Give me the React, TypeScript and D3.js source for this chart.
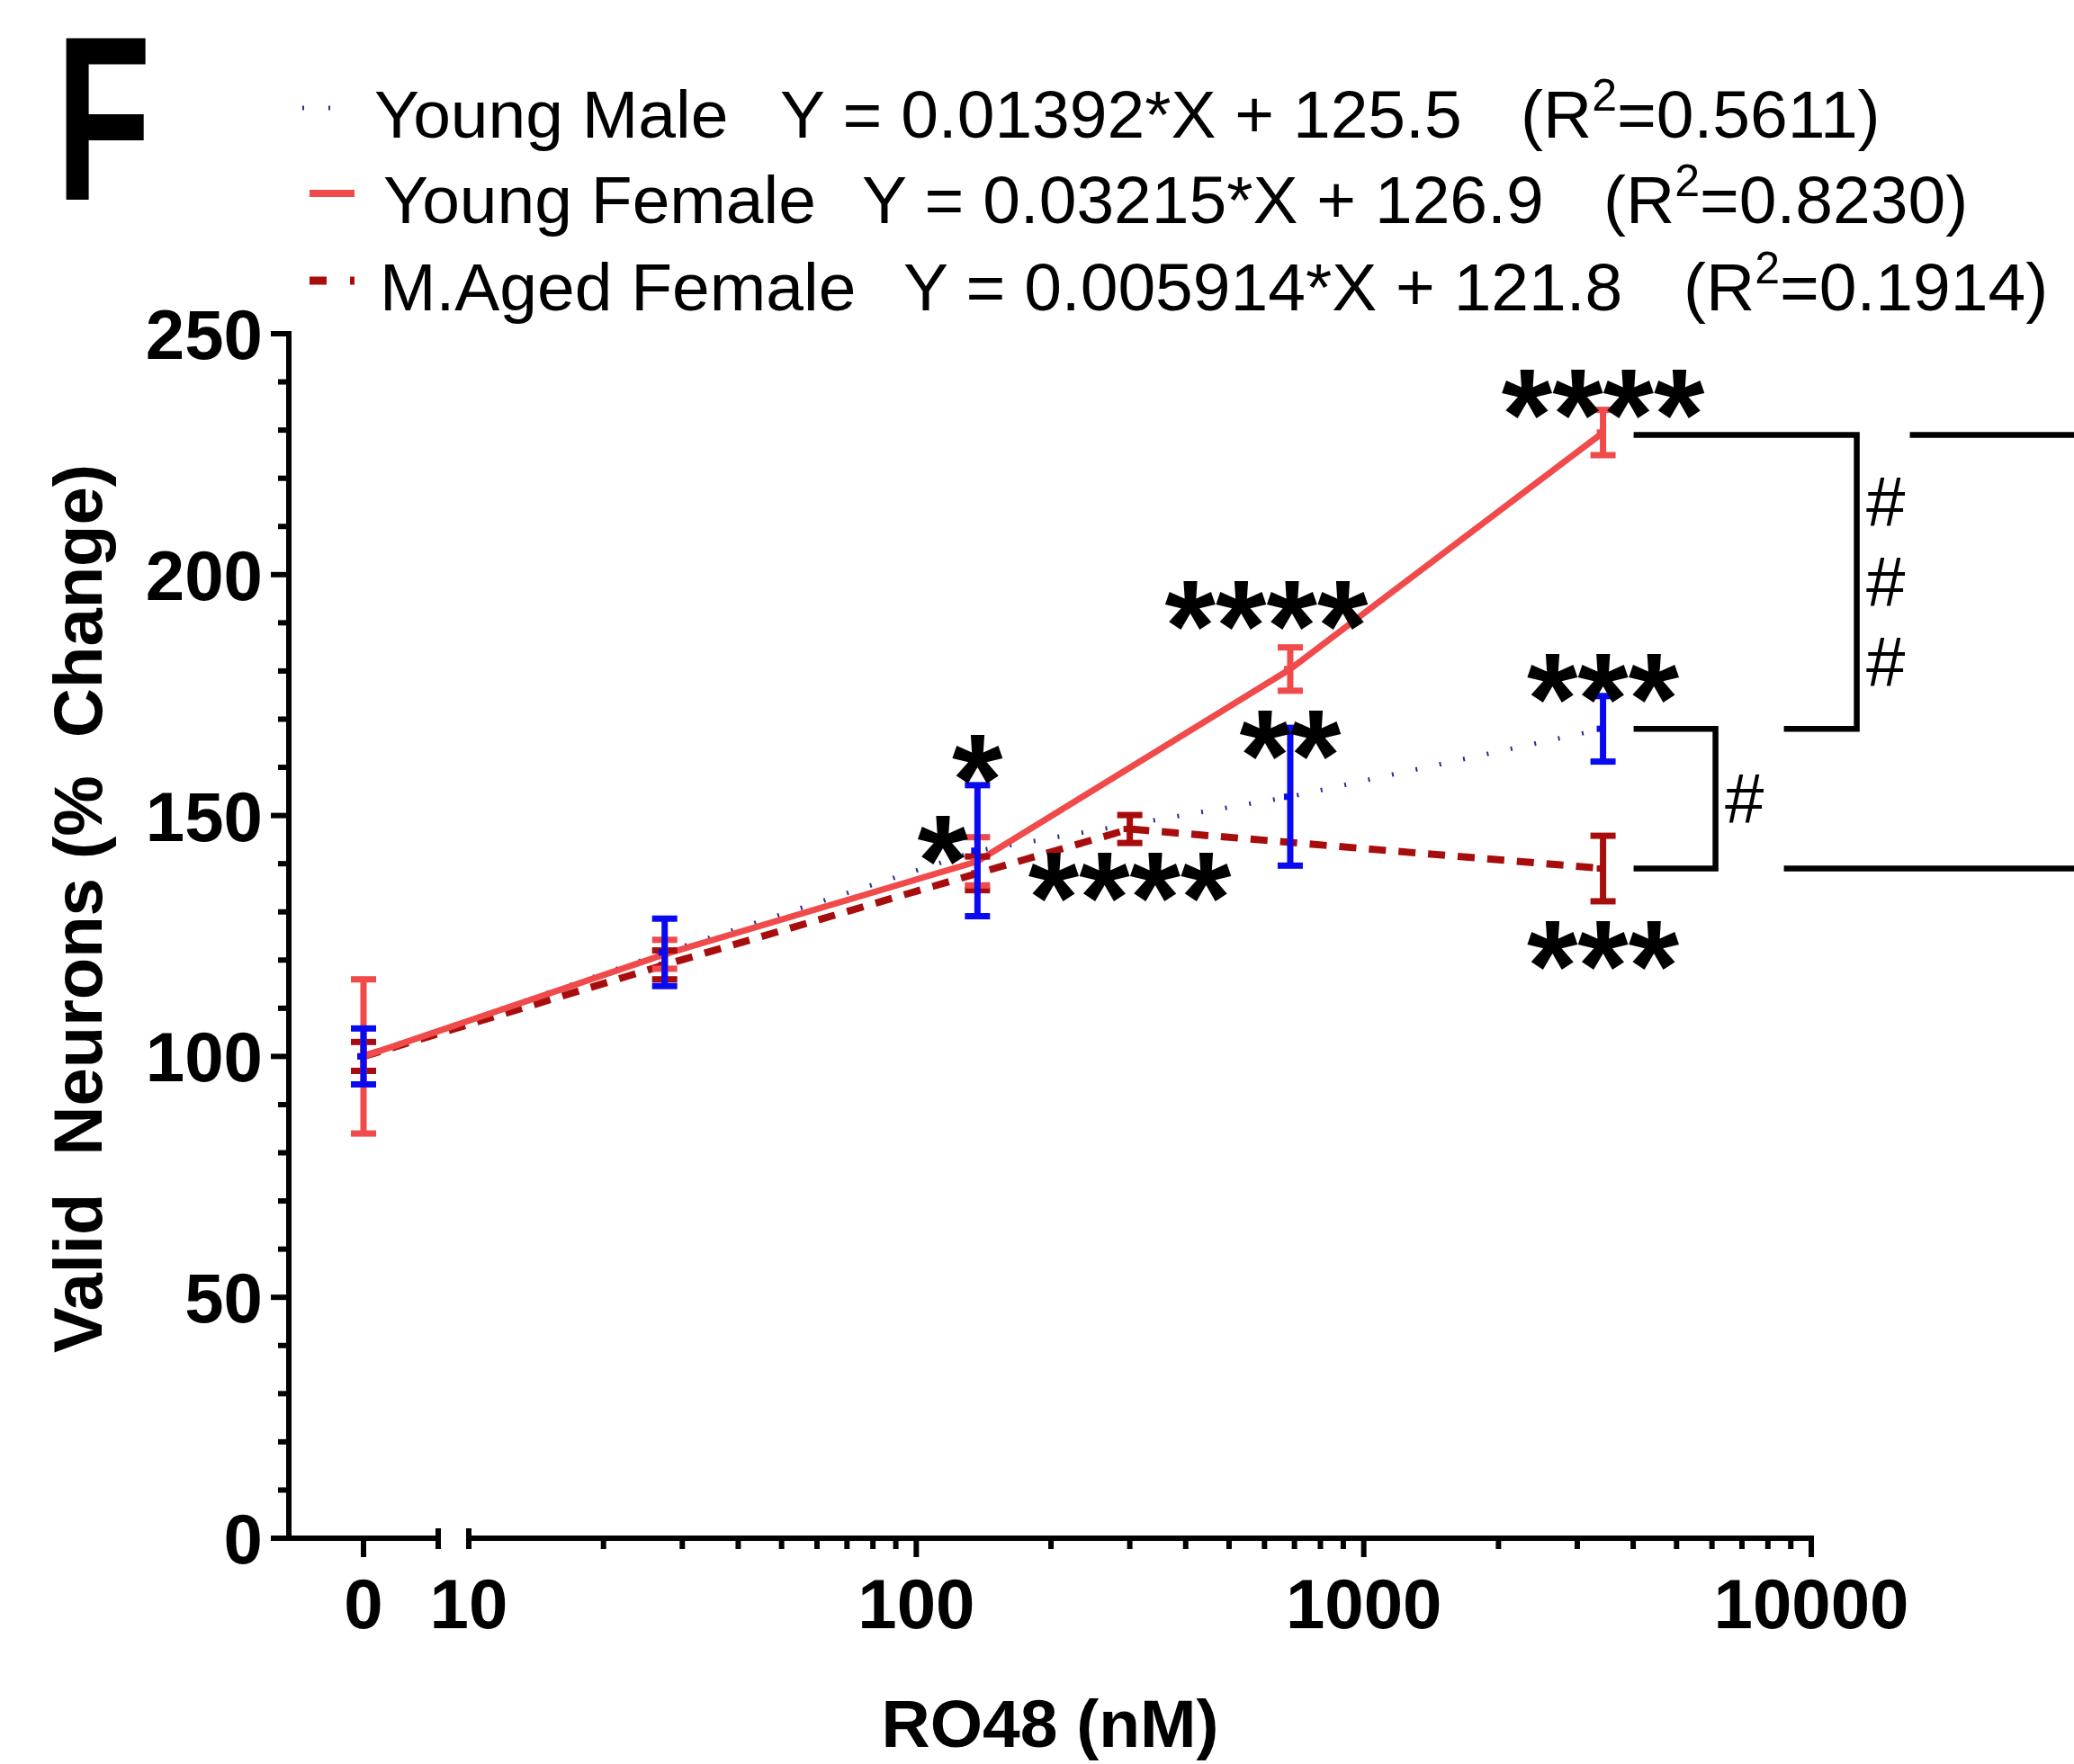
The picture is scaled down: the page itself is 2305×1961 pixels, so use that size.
import React from "react";
import * as d3 from "d3";

// ---------- data ----------
const doses = [0, 27.4, 137, 685, 3425];
const youngMaleMean = [100, 121.6, 142.7, 153.9, 168.0];
const youngMaleErr = [5.8, 7.0, 13.6, 14.3, 6.8];
const youngFemaleMean = [100, 121.2, 140.5, 180.4, 229.5];
const youngFemaleErr = [16.0, 3.0, 5.0, 4.5, 4.7];
const agedDoses = [0, 27.4, 137, 300, 3425];
const agedMean = [100, 119.0, 138.0, 147.2, 139.0];
const agedErr = [3.0, 3.0, 3.5, 2.9, 6.8];

const yTicks = [0, 50, 100, 150, 200, 250];
const yMinorTicks = d3.range(0, 251, 10);
const xLogTicks = [10, 100, 1000, 10000];
const xZeroTick = [0];

const legendRows = [
  { name: "Young Male", eq: "Y = 0.01392*X + 125.5", r2: "0.5611" },
  { name: "Young Female", eq: "Y = 0.03215*X + 126.9", r2: "0.8230" },
  { name: "M.Aged Female", eq: "Y = 0.005914*X + 121.8", r2: "0.1914" },
];

const annotations = [
  { text: "****", x: 3425, y: 238.2 },
  { text: "****", x: 606, y: 194.4 },
  { text: "***", x: 3425, y: 179.2 },
  { text: "**", x: 685, y: 167.5 },
  { text: "*", x: 137, y: 162.4 },
  { text: "*", x: 114.6, y: 145.6 },
  { text: "****", x: 300, y: 138.0 },
  { text: "***", x: 3425, y: 123.8 },
];

const bracketLevels = { female: 229, male: 168, aged: 139 };

// ---------- styles ----------
const RED = "#f04a4a";
const BLUE = "#0a0af0";
const NAVY = "#2a2a95";
const DARKRED = "#a80d0d";
const FONT = "'Liberation Sans', Arial, Helvetica, sans-serif";

export default function App() {
  const W = 2305;
  const H = 1961;

  const y = d3.scaleLinear().domain([0, 250]).range([1710, 371]);
  const xLog = d3.scaleLog().domain([10, 10000]).range([521, 2013]);
  const xZero = d3.scaleLinear().domain([-1, 1]).range([321, 487]);
  const xp = (d: number) => (d === 0 ? xZero(0) : xLog(d));

  const lineGen = d3
    .line<[number, number]>()
    .x((p) => xp(p[0]))
    .y((p) => y(p[1]));

  const malePts = doses.map((d, i) => [d, youngMaleMean[i]] as [number, number]);
  const femalePts = doses.map((d, i) => [d, youngFemaleMean[i]] as [number, number]);
  const agedPts = agedDoses.map((d, i) => [d, agedMean[i]] as [number, number]);

  const capW = 14;
  const errBars = (
    xs: number[],
    means: number[],
    errs: number[],
    color: string,
    key: string
  ) =>
    xs.map((d, i) => {
      const cx = xp(d);
      const yt = y(means[i] + errs[i]);
      const yb = y(means[i] - errs[i]);
      return (
        <g key={key + i} stroke={color} strokeWidth={7} fill="none">
          <line x1={cx} x2={cx} y1={yt} y2={yb} />
          <line x1={cx - capW} x2={cx + capW} y1={yt} y2={yt} />
          <line x1={cx - capW} x2={cx + capW} y1={yb} y2={yb} />
          <line x1={cx - capW / 2} x2={cx} y1={y(means[i])} y2={y(means[i])} />
        </g>
      );
    });

  // minor log ticks
  const logMinor: number[] = [];
  [10, 100, 1000].forEach((dec) => {
    for (let k = 2; k <= 9; k++) logMinor.push(dec * k);
  });

  const axisY = y(0);
  const base = xLog(3425);
  const yF = y(bracketLevels.female);
  const yM = y(bracketLevels.male);
  const yA = y(bracketLevels.aged);
  const innerV = base + 125;
  const outerV = base + 282;

  const astSize = 145;
  const legendX = [
    { sym: 336, name: 416, eq: 867, r2: 1690 },
    { sym: 344, name: 426, eq: 958, r2: 1782 },
    { sym: 344, name: 422, eq: 1004, r2: 1871 },
  ];
  const legendY = [153, 248, 345];

  return (
    <svg
      width={W}
      height={H}
      viewBox={`0 0 ${W} ${H}`}
      style={{ position: "absolute", left: 0, top: 0, background: "#fff" }}
      fontFamily={FONT}
    >
      <rect x={0} y={0} width={W} height={H} fill="#fff" />

      {/* Panel letter */}
      <text
        x={62}
        y={222}
        fontSize={261}
        fontWeight="bold"
        fill="#000"
        textLength={106}
        lengthAdjust="spacingAndGlyphs"
      >
        F
      </text>

      {/* Legend */}
      {legendRows.map((r, i) => (
        <g key={"lg" + i}>
          {i === 0 && (
            <line
              x1={legendX[i].sym}
              x2={legendX[i].sym + 50}
              y1={legendY[i] - 33}
              y2={legendY[i] - 33}
              stroke={NAVY}
              strokeWidth={5}
              strokeDasharray="2,27"
            />
          )}
          {i === 1 && (
            <line
              x1={legendX[i].sym}
              x2={legendX[i].sym + 50}
              y1={legendY[i] - 33}
              y2={legendY[i] - 33}
              stroke={RED}
              strokeWidth={8}
            />
          )}
          {i === 2 && (
            <line
              x1={legendX[i].sym}
              x2={legendX[i].sym + 50}
              y1={legendY[i] - 33}
              y2={legendY[i] - 33}
              stroke={DARKRED}
              strokeWidth={9}
              strokeDasharray="19,26"
            />
          )}
          <text x={legendX[i].name} y={legendY[i]} fontSize={75} fill="#000">
            {r.name}
          </text>
          <text x={legendX[i].eq} y={legendY[i]} fontSize={75} fill="#000">
            {r.eq}
          </text>
          <text x={legendX[i].r2} y={legendY[i]} fontSize={75} fill="#000">
            (R
            <tspan fontSize={50} dy={-30}>
              2
            </tspan>
            <tspan dy={30}>={r.r2})</tspan>
          </text>
        </g>
      ))}

      {/* Y axis */}
      <g stroke="#000" strokeWidth={6}>
        <line x1={xZero(-1)} x2={xZero(-1)} y1={y(250) - 3} y2={axisY + 3} />
        {yMinorTicks
          .filter((t) => t % 50 !== 0)
          .map((t) => (
            <line key={"ym" + t} x1={xZero(-1) - 12} x2={xZero(-1)} y1={y(t)} y2={y(t)} />
          ))}
        {yTicks.map((t) => (
          <line key={"yM" + t} x1={xZero(-1) - 20} x2={xZero(-1)} y1={y(t)} y2={y(t)} />
        ))}
      </g>
      {yTicks.map((t) => (
        <text
          key={"yl" + t}
          x={292}
          y={y(t) + 28}
          textAnchor="end"
          fontSize={78}
          fontWeight="bold"
          fill="#000"
        >
          {t}
        </text>
      ))}

      {/* X axis - zero segment */}
      <g stroke="#000" strokeWidth={6}>
        <line x1={xZero(-1) - 20} x2={xZero(1)} y1={axisY} y2={axisY} />
        <line x1={xZero(1)} x2={xZero(1)} y1={axisY - 11} y2={axisY + 12} />
        {xZeroTick.map((t) => (
          <line key={"xz" + t} x1={xZero(t)} x2={xZero(t)} y1={axisY} y2={axisY + 21} />
        ))}
        {/* log segment */}
        <line x1={xLog(10)} x2={xLog(10000) + 3} y1={axisY} y2={axisY} />
        <line x1={xLog(10)} x2={xLog(10)} y1={axisY - 11} y2={axisY + 12} />
        {logMinor.map((t) => (
          <line key={"xm" + t} x1={xLog(t)} x2={xLog(t)} y1={axisY} y2={axisY + 12} />
        ))}
        {xLogTicks
          .filter((t) => t !== 10)
          .map((t) => (
            <line key={"xM" + t} x1={xLog(t)} x2={xLog(t)} y1={axisY} y2={axisY + 21} />
          ))}
      </g>
      {xZeroTick.map((t) => (
        <text
          key={"xzl" + t}
          x={xZero(t)}
          y={1810}
          textAnchor="middle"
          fontSize={78}
          fontWeight="bold"
          fill="#000"
        >
          {t}
        </text>
      ))}
      {xLogTicks.map((t) => (
        <text
          key={"xl" + t}
          x={xLog(t)}
          y={1810}
          textAnchor="middle"
          fontSize={78}
          fontWeight="bold"
          fill="#000"
        >
          {t}
        </text>
      ))}

      {/* Axis titles */}
      <text
        x={1167}
        y={1942}
        textAnchor="middle"
        fontSize={75}
        fontWeight="bold"
        fill="#000"
      >
        RO48 (nM)
      </text>
      <text
        transform="translate(113,1010) rotate(-90)"
        textAnchor="middle"
        fontSize={76}
        fontWeight="bold"
        fill="#000"
        style={{ whiteSpace: "pre" }}
      >
        {"Valid  Neurons (%  Change)"}
      </text>

      {/* Series lines */}
      <path
        d={lineGen(agedPts) || ""}
        fill="none"
        stroke={DARKRED}
        strokeWidth={8}
        strokeDasharray="19,14"
      />
      <path
        d={lineGen(malePts) || ""}
        fill="none"
        stroke={NAVY}
        strokeWidth={5}
        strokeDasharray="2,25"
      />
      <path d={lineGen(femalePts) || ""} fill="none" stroke={RED} strokeWidth={7} />

      {/* Error bars */}
      {errBars(agedDoses, agedMean, agedErr, DARKRED, "ae")}
      {errBars(doses, youngFemaleMean, youngFemaleErr, RED, "fe")}
      {errBars(doses, youngMaleMean, youngMaleErr, BLUE, "me")}

      {/* Significance asterisks */}
      {annotations.map((a, i) => (
        <text
          key={"an" + i}
          x={xp(a.x)}
          y={y(a.y) + astSize * 0.53}
          textAnchor="middle"
          fontSize={astSize}
          fontWeight="bold"
          fill="#000"
        >
          {a.text}
        </text>
      ))}

      {/* Brackets */}
      <g stroke="#000" strokeWidth={6.5} fill="none">
        <polyline points={`${base + 34},${yF} ${outerV},${yF} ${outerV},${yM} ${base + 201},${yM}`} />
        <line x1={base + 341} x2={W} y1={yF} y2={yF} />
        <polyline points={`${base + 34},${yM} ${innerV},${yM} ${innerV},${yA} ${base + 34},${yA}`} />
        <line x1={base + 201} x2={W} y1={yA} y2={yA} />
      </g>
      {[-1, 0, 1].map((k) => (
        <text
          key={"h" + k}
          x={outerV + 32}
          y={(yF + yM) / 2 + k * 89}
          textAnchor="middle"
          dominantBaseline="central"
          fontSize={78}
          fill="#000"
        >
          #
        </text>
      ))}
      <text
        x={innerV + 32}
        y={(yM + yA) / 2}
        textAnchor="middle"
        dominantBaseline="central"
        fontSize={78}
        fill="#000"
      >
        #
      </text>
    </svg>
  );
}
